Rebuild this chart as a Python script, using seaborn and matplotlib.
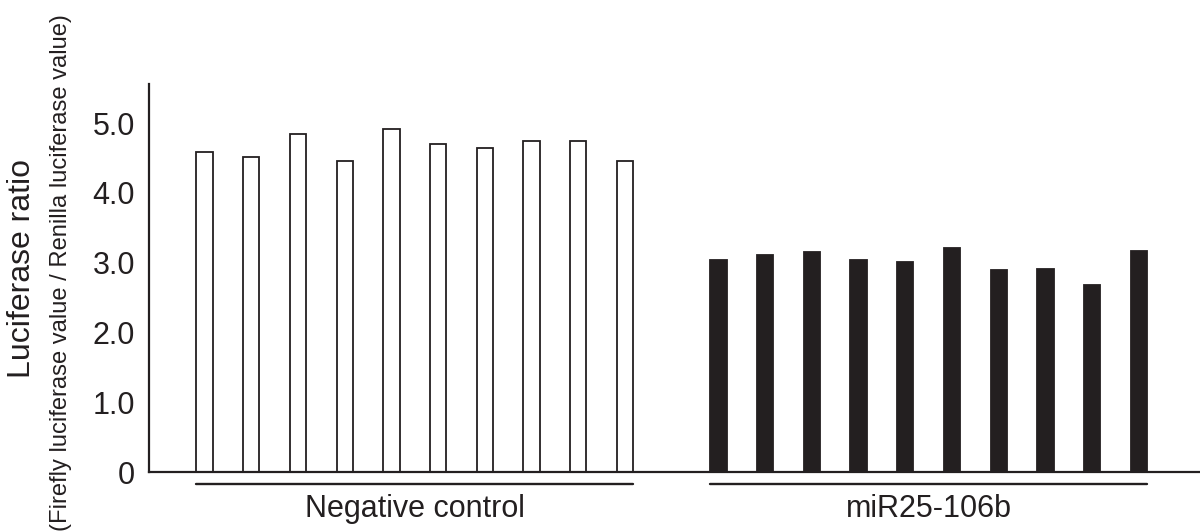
import pandas as pd
import matplotlib
matplotlib.use('Agg')
import matplotlib.pyplot as plt
import matplotlib.transforms as mtransforms
import seaborn as sns

# values
groups = ['Negative control', 'miR25-106b']
neg_values = [4.59, 4.52, 4.85, 4.46, 4.91, 4.70, 4.64, 4.74, 4.74, 4.45]
mir_values = [3.04, 3.11, 3.15, 3.04, 3.01, 3.21, 2.90, 2.91, 2.68, 3.16]
y_ticks = [0, 1, 2, 3, 4, 5]
y_tick_labels = ['0', '1.0', '2.0', '3.0', '4.0', '5.0']

neg_ids = ['N%d' % (i + 1) for i in range(len(neg_values))]
mir_ids = ['M%d' % (i + 1) for i in range(len(mir_values))]
order = neg_ids + [' '] + mir_ids

df = pd.DataFrame({
    'sample': neg_ids + mir_ids,
    'value': neg_values + mir_values,
    'group': [groups[0]] * len(neg_values) + [groups[1]] * len(mir_values),
})

sns.set_style('white')
plt.rcParams['font.family'] = ['Liberation Sans', 'DejaVu Sans']

ink = '#231f20'
fig = plt.figure(figsize=(12, 5.32), dpi=100)
ax = fig.add_axes([149 / 1200, 60 / 532, 1051 / 1200, 388 / 532])

bar_w = 0.35
sns.barplot(data=df, x='sample', y='value', hue='group', order=order,
            palette={groups[0]: 'white', groups[1]: ink}, dodge=False,
            width=bar_w, edgecolor=ink, linewidth=1.3, saturation=1,
            legend=False, ax=ax)

ax.set_xlim(-1.19, 21.31)
ax.set_ylim(0, 5.56)
ax.set_yticks(y_ticks)
ax.set_yticklabels(y_tick_labels)
ax.set_xticks([])
ax.set_xlabel('')
ax.set_ylabel('')
ax.tick_params(axis='y', length=0, pad=10, labelsize=22, colors=ink)
for side in ['top', 'right']:
    ax.spines[side].set_visible(False)
for side in ['left', 'bottom']:
    ax.spines[side].set_color(ink)
    ax.spines[side].set_linewidth(1.6)

# group underlines and labels below the axis
trans = mtransforms.blended_transform_factory(ax.transData, ax.transAxes)
for name, ids in zip(groups, [neg_ids, mir_ids]):
    x0 = order.index(ids[0]) - bar_w / 2
    x1 = order.index(ids[-1]) + bar_w / 2
    ax.plot([x0, x1], [-0.032, -0.032], color=ink, lw=1.7,
            transform=trans, clip_on=False)
    ax.text((x0 + x1) / 2, -0.095, name, transform=trans, ha='center',
            va='center', fontsize=22, color=ink)

fig.text(22 / 1200, 0.496, 'Luciferase ratio', rotation=90, ha='center',
         va='center', fontsize=23, color=ink)
sub = fig.text(61 / 1200, 0.487,
               '(Firefly luciferase value / Renilla luciferase value)',
               rotation=90, ha='center', va='center', fontsize=20, color=ink,
               family=['Liberation Sans Narrow', 'Liberation Sans', 'DejaVu Sans'])

# shrink the subtitle so it spans the figure height like the original
renderer = fig.canvas.get_renderer()
h = sub.get_window_extent(renderer).height
if h > 515:
    sub.set_fontsize(20 * 515 / h)

plt.savefig('out.png', dpi=100)
plt.close()
